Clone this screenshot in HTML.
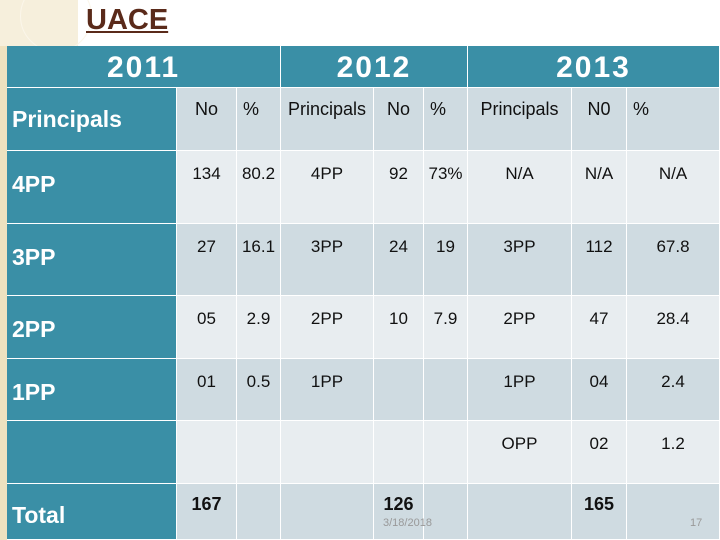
<!DOCTYPE html>
<html><head><meta charset="utf-8"><style>
body{margin:0;width:720px;height:540px;overflow:hidden;background:#fff;position:relative;font-family:"Liberation Sans",sans-serif}
.c{position:absolute;box-sizing:border-box;border-right:1.5px solid #fff;border-bottom:1.5px solid #fff;color:#111;font-size:17px;text-align:center}
.t{background:#3a8fa6;color:#fff;font-weight:bold}
.d{background:#cfdbe1}.l{background:#e8edf0}
</style></head><body>
<div style="position:absolute;left:0;top:0;width:7px;height:540px;background:#efe2c0"></div>
<div style="position:absolute;left:0;top:0;width:78px;height:46px;background:#f6efdc"></div>
<div style="position:absolute;left:20px;top:-20px;width:70px;height:70px;border-radius:50%;border:1px solid #fbf6ea"></div>
<div style="position:absolute;left:86px;top:4px;font-size:29px;font-weight:bold;color:#5a2a1a;text-decoration:underline">UACE</div>
<div id="tbl"></div>
<div style="position:absolute;left:383px;top:517px;font-size:11px;color:#999">3/18/2018</div>
<div style="position:absolute;left:690px;top:517px;font-size:11px;color:#999">17</div>
<script>
const cols=[7,177,237,281,374,424,468,572,627,720];
const rows=[46,88,151,224,296,359,421,484,540];
const years=["2011","2012","2013"];
const labels=["Principals","4PP","3PP","2PP","1PP","","Total"];
const hdr=["No","%","Principals","No","%","Principals","N0","%"];
const data=[
["134","80.2","4PP","92","73%","N/A","N/A","N/A"],
["27","16.1","3PP","24","19","3PP","112","67.8"],
["05","2.9","2PP","10","7.9","2PP","47","28.4"],
["01","0.5","1PP","","","1PP","04","2.4"],
["","","","","","OPP","02","1.2"],
["167","","","126","","","165",""]];
const tb=document.getElementById('tbl');
function cell(x0,x1,y0,y1,cls,txt,st){const e=document.createElement('div');e.className='c '+cls;
e.style.left=x0+'px';e.style.top=y0+'px';e.style.width=(x1-x0)+'px';e.style.height=(y1-y0)+'px';
if(st)e.style.cssText+=st;e.textContent=txt;tb.appendChild(e);return e;}
const yspan=[[0,3],[3,6],[6,9]];
years.forEach((y,i)=>{const e=cell(cols[yspan[i][0]],cols[yspan[i][1]],rows[0],rows[1],'t',y,'font-size:30px;line-height:44px;letter-spacing:2px');

});
labels.forEach((lb,r)=>{const e=cell(cols[0],cols[1],rows[r+1],rows[r+2],'t',lb,'text-align:left;padding-left:5px;font-size:23px;padding-top:'+(r==6?18:r==0?18:20)+'px');

});
hdr.forEach((h,c)=>{const e=cell(cols[c+1],cols[c+2],rows[1],rows[2],'d',h,'padding-top:11px;font-size:18px;'+(h=='%'?'text-align:left;padding-left:6px':''));

});
data.forEach((row,r)=>{row.forEach((v,c)=>{const cls=(r%2==0)?'l':'d';
const e=cell(cols[c+1],cols[c+2],rows[r+2],rows[r+3],cls,v,'padding-top:'+(r==5?10:13)+'px;'+(r==5?'font-weight:bold;font-size:18px':''));

});});
</script>
</body></html>
